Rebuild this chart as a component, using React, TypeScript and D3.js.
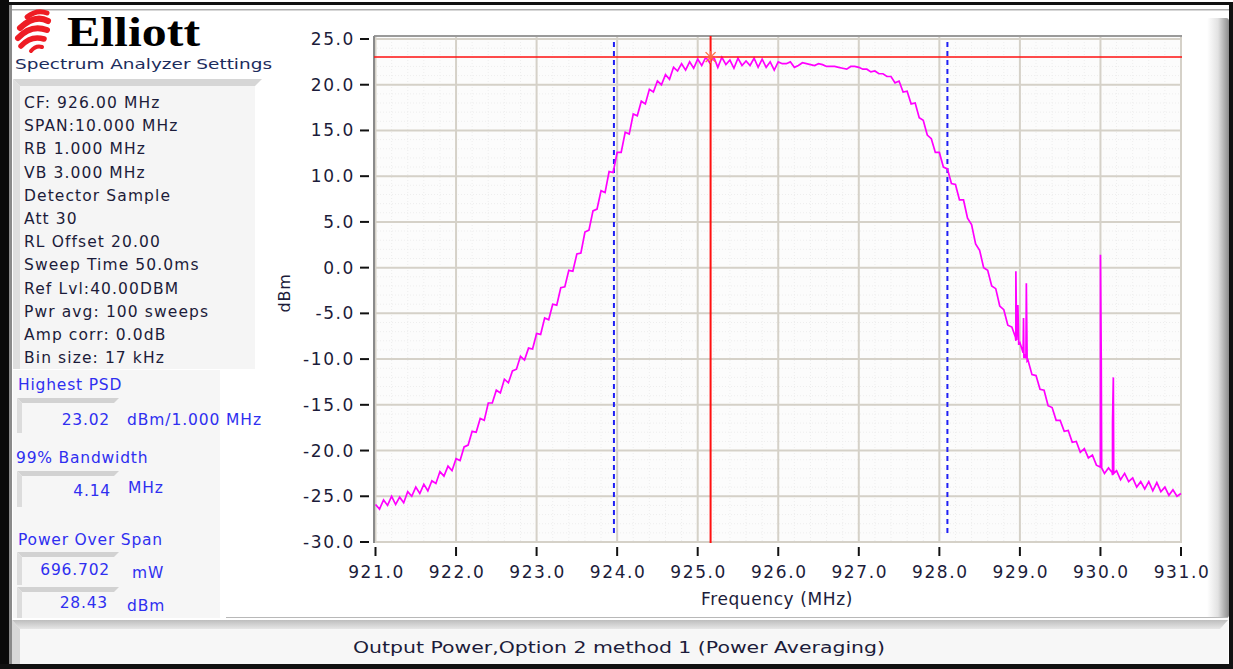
import React from "react";
import * as d3 from "d3";

// ---------- data ----------
const freqStart = 921.0;
const freqStep = 0.05;
const levels: number[] = [
  -26.2, -26.0, -25.9, -25.8, -25.6, -25.4, -25.3, -25.1, -24.9, -24.7,
  -24.5, -24.3, -24.0, -23.8, -23.5, -23.2, -22.9, -22.5, -22.1, -21.7,
  -21.2, -20.6, -20.0, -19.2, -18.4, -17.6, -16.8, -16.1, -15.2, -14.6,
  -13.9, -13.4, -12.6, -12.1, -11.6, -10.8, -10.2, -9.7, -9.0, -8.4,
  -7.6, -7.0, -6.0, -5.3, -4.3, -3.6, -2.6, -1.9, -0.8, 0.0,
  1.2, 2.1, 3.5, 4.4, 5.7, 6.6, 8.0, 8.7, 10.2, 10.8,
  12.2, 12.9, 14.5, 15.0, 16.6, 16.9, 18.0, 18.3, 19.2, 19.4,
  20.2, 20.3, 21.0, 20.9, 21.7, 21.6, 22.1, 21.9, 22.4, 22.0,
  22.7, 22.3, 22.8, 22.5, 22.9, 22.2, 22.8, 22.3, 22.6, 22.0,
  22.7, 22.3, 22.5, 22.4, 22.8, 22.1, 22.6, 22.3, 22.4, 21.8,
  22.4, 22.5, 22.1, 22.6, 21.8, 22.4, 22.2, 22.5, 22.1, 22.3,
  22.1, 22.3, 21.9, 22.2, 21.8, 22.1, 21.7, 22.0, 21.8, 22.1,
  21.8, 21.9, 21.5, 21.6, 21.4, 21.4, 21.0, 21.0, 20.6, 20.4,
  20.1, 19.6, 19.1, 18.4, 17.6, 16.7, 15.6, 14.9, 13.8, 13.1,
  12.2, 11.3, 10.3, 9.6, 8.8, 7.9, 7.0, 5.7, 4.2, 3.0,
  1.6, 0.5, -0.7, -1.7, -2.8, -3.8, -4.9, -5.8, -6.9, -7.7,
  -8.7, -9.5, -10.4, -11.2, -12.2, -13.0, -13.9, -14.7, -15.6, -16.2,
  -17.1, -17.6, -18.3, -18.7, -19.3, -19.7, -20.2, -20.5, -21.0, -21.2,
  -21.8, -21.9, -22.3, -22.4, -22.7, -22.8, -23.1, -23.1, -23.4, -23.5,
  -23.7, -23.6, -23.9, -24.0, -24.1, -24.2, -24.4, -24.3, -24.8, -24.6,
  -25.0,
];
// narrow spurious spikes (frequency MHz, level dBm)
const spikeFreqs: number[] = [
  928.945, 928.95, 928.96, 928.975, 928.985, 929.04, 929.045, 929.055, 929.075, 929.08, 929.09,
  929.995, 930.0, 930.01, 930.015, 930.145, 930.15, 930.16, 930.165,
];
const spikeLevels: number[] = [
  -7.6, -0.4, -7.9, -4.1, -8.3, -9.3, -5.5, -9.5, -9.9, -1.7, -10.2,
  -21.8, 1.4, -10.1, -21.9, -22.4, -16.9, -12.0, -22.5,
];
// per-bin ripple (dB), added to the levels at 0.05 MHz bins
const ripple: number[] = [
  0.3, -0.4, 0.5, -0.2, 0.6, -0.5, 0.2, -0.6, 0.4, -0.3,
  0.5, -0.4, 0.3, -0.6, 0.2, -0.4, 0.6, -0.3, 0.4, -0.5,
  0.3, -0.5, 0.4, -0.2, 0.5, -0.4, 0.3, -0.6, 0.4, -0.2,
  0.5, -0.3, 0.4, -0.5, 0.3, -0.3, 0.5, -0.4, 0.2, -0.5,
  0.4, -0.3, 0.5, -0.4, 0.3, -0.5, 0.4, -0.2, 0.5, -0.4,
  0.3, -0.5, 0.4, -0.3, 0.5, -0.2, 0.4, -0.5, 0.3, -0.4,
  0.4, -0.3, 0.3, -0.4, 0.2, -0.3, 0.2, -0.4, 0.3, -0.2,
  0.2, -0.3, 0.1, -0.3, 0.2, -0.1, 0.2, -0.3, 0.1, -0.2,
  0.1, -0.2, 0.2, -0.1, 0.1, -0.3, 0.2, -0.1, 0.1, -0.2,
  0.2, -0.2, 0.1, -0.3, 0.1, -0.2, 0.2, -0.4, 0.1, -0.2,
  0.1, -0.2, 0.2, -0.1, 0.1, -0.3, 0.2, -0.2, 0.1, -0.2,
  0.2, -0.1, 0.1, -0.2, 0.2, -0.2, 0.1, -0.3, 0.2, -0.1,
  0.1, -0.2, 0.2, -0.2, 0.1, -0.2, 0.2, -0.1, 0.3, -0.2,
  0.3, -0.4, 0.2, -0.5, 0.4, -0.3, 0.5, -0.4, 0.3, -0.5,
  0.4, -0.3, 0.5, -0.4, 0.3, -0.5, 0.4, -0.3, 0.5, -0.4,
  0.3, -0.5, 0.4, -0.3, 0.5, -0.4, 0.3, -0.5, 0.4, -0.3,
  0.5, -0.4, 0.3, -0.5, 0.4, -0.3, 0.5, -0.4, 0.3, -0.5,
  0.4, -0.3, 0.5, -0.4, 0.3, -0.5, 0.4, -0.3, 0.5, -0.4,
  0.3, -0.6, 0.4, -0.3, 0.5, -0.4, 0.6, -0.3, 0.4, -0.5,
  0.3, -0.6, 0.5, -0.4, 0.6, -0.3, 0.4, -0.6, 0.5, -0.4,
  0.3,
];

const xTicks: number[] = [921, 922, 923, 924, 925, 926, 927, 928, 929, 930, 931];
const yTicks: number[] = [25, 20, 15, 10, 5, 0, -5, -10, -15, -20, -25, -30];

const peakFreq = 925.16;
const peakLevel = 23.02;
const obwLow = 923.96;
const obwHigh = 928.1;

const settingsLines: string[] = [
  "CF: 926.00 MHz",
  "SPAN:10.000 MHz",
  "RB 1.000 MHz",
  "VB 3.000 MHz",
  "Detector Sample",
  "Att 30",
  "RL Offset 20.00",
  "Sweep Time 50.0ms",
  "Ref Lvl:40.00DBM",
  "Pwr avg: 100 sweeps",
  "Amp corr: 0.0dB",
  "Bin size: 17 kHz",
];

// ---------- layout ----------
const W = 1233;
const H = 669;
const FONT = "'DejaVu Sans', Verdana, sans-serif";
const TXT = "#1c1c3a";
const BLUE = "#2f2ff0";

const x = d3.scaleLinear().domain([921, 931]).range([375.5, 1181]);
const y = d3.scaleLinear().domain([25, -30]).range([39, 542]);

function Bevel({ x0, y0, w, h }: { x0: number; y0: number; w: number; h: number }) {
  return (
    <g>
      <rect x={x0} y={y0} width={w} height={h} fill="#f6f6f6" />
      <polygon points={`${x0},${y0} ${x0 + w},${y0} ${x0 + w - 5},${y0 + 5} ${x0 + 5},${y0 + 5}`} fill="#d2d2d2" />
      <polygon points={`${x0},${y0} ${x0 + 5},${y0 + 5} ${x0 + 5},${y0 + h} ${x0},${y0 + h}`} fill="#dcdcdc" />
    </g>
  );
}

export default function App() {
  const base = levels.map((v, i) => [freqStart + i * freqStep, v + ripple[i]] as [number, number]);
  const spikes = spikeFreqs.map((f, i) => [f, spikeLevels[i]] as [number, number]);
  const pts = base.concat(spikes).sort((a, b) => a[0] - b[0]);
  const line = d3
    .line<[number, number]>()
    .x((d) => x(d[0]))
    .y((d) => y(d[1]));

  const plotL = 374;
  const plotR = 1182;
  const plotT = 36;
  const plotB = 543;

  const minorX = d3.range(921, 931.001, 0.2);
  const minorY = d3.range(-30, 25.001, 1);

  const px = x(peakFreq);
  const py = y(peakLevel);

  return (
    <svg
      width={W}
      height={H}
      style={{ position: "absolute", left: 0, top: 0, background: "#fff" }}
      fontFamily={FONT}
    >
      {/* window frame */}
      <rect x={0} y={0} width={W} height={H} fill="#ffffff" />
      <rect x={0} y={2} width={W} height={3} fill="#111" />
      <rect x={0} y={0} width={9} height={H} fill="#0a0a0a" />
      <rect x={9} y={5} width={3} height={H - 5} fill="#8a8a8a" />
      <rect x={12} y={9} width={1218} height={1.5} fill="#b0b0b0" />
      <rect x={W - 4} y={5} width={4} height={H - 5} fill="#111" />
      <rect x={0} y={H - 5} width={W} height={5} fill="#111" />
      <defs>
        <linearGradient id="rbar" x1="0" x2="1" y1="0" y2="0">
          <stop offset="0" stopColor="#ffffff" />
          <stop offset="0.5" stopColor="#e2e2e2" />
          <stop offset="1" stopColor="#8c8c8c" />
        </linearGradient>
        <linearGradient id="sbar" x1="0" x2="0" y1="0" y2="1">
          <stop offset="0" stopColor="#bdbdbd" />
          <stop offset="1" stopColor="#e6e6e6" />
        </linearGradient>
      </defs>
      <rect x={1207} y={18} width={22} height={600} rx={3} fill="url(#rbar)" />

      {/* left panel */}
      <rect x={13} y={11} width={204} height={606} fill="#ffffff" />
      {/* logo swirl */}
      <g stroke="#ee1c24" fill="none" strokeLinecap="round">
        <path d="M 27 17 Q 37 9 47 13" strokeWidth={5} />
        <path d="M 20 28 Q 35 14 48 21" strokeWidth={6} />
        <path d="M 18 38 Q 31 24 47 30" strokeWidth={6} />
        <path d="M 21 46 Q 31 35 44 39" strokeWidth={5.5} />
        <path d="M 31 51 Q 36 45 42 47" strokeWidth={4} />
      </g>
      <text
        x={67}
        y={46}
        fontFamily="'Liberation Serif', 'Times New Roman', serif"
        fontWeight="bold"
        fontSize={43}
        fill="#000"
        textLength={133}
        lengthAdjust="spacingAndGlyphs"
      >
        Elliott
      </text>
      <text x={15} y={69} fontSize={14.5} fill="#1c2c5c" textLength={257} lengthAdjust="spacingAndGlyphs">
        Spectrum Analyzer Settings
      </text>

      {/* settings box */}
      <rect x={13} y={79} width={242} height={290} fill="#f5f5f5" />
      <polygon points="13,79 262,79 255,86 20,86" fill="#d6d6d6" />
      <polygon points="13,79 20,86 20,369 13,369" fill="#dedede" />
      {settingsLines.map((s, i) => (
        <text key={s} x={24} y={108 + i * 23.2} fontSize={15.5} fill={TXT} letterSpacing={1.1}>
          {s}
        </text>
      ))}

      {/* results panel */}
      <rect x={13} y={370} width={207} height={248} fill="#f6f6f6" />
      <text x={18} y={390} fontSize={15.5} fill={BLUE} letterSpacing={0.8}>
        Highest PSD
      </text>
      <Bevel x0={17} y0={398} w={102} h={35} />
      <text x={110} y={425} fontSize={15.5} fill={BLUE} textAnchor="end" letterSpacing={0.8}>
        23.02
      </text>
      <text x={127} y={425} fontSize={15.5} fill={BLUE} letterSpacing={0.9}>
        dBm/1.000 MHz
      </text>

      <text x={16} y={463} fontSize={15.5} fill={BLUE} letterSpacing={0.8}>
        99% Bandwidth
      </text>
      <Bevel x0={17} y0={471} w={102} h={36} />
      <text x={111} y={496} fontSize={15.5} fill={BLUE} textAnchor="end" letterSpacing={0.8}>
        4.14
      </text>
      <text x={128} y={493} fontSize={15.5} fill={BLUE} letterSpacing={0.9}>
        MHz
      </text>

      <text x={18} y={545} fontSize={15.5} fill={BLUE} letterSpacing={0.8}>
        Power Over Span
      </text>
      <Bevel x0={17} y0={552} w={102} h={33} />
      <text x={110} y={575} fontSize={15.5} fill={BLUE} textAnchor="end" letterSpacing={0.8}>
        696.702
      </text>
      <text x={132} y={578} fontSize={15.5} fill={BLUE} letterSpacing={0.9}>
        mW
      </text>
      <Bevel x0={17} y0={587} w={102} h={31} />
      <text x={108} y={608} fontSize={15.5} fill={BLUE} textAnchor="end" letterSpacing={0.8}>
        28.43
      </text>
      <text x={127} y={611} fontSize={15.5} fill={BLUE} letterSpacing={0.9}>
        dBm
      </text>

      {/* status bar */}
      <line x1={226} x2={1228} y1={617.5} y2={617.5} stroke="#b8b8b8" strokeWidth={1} />
      <rect x={12} y={620} width={1216} height={44} fill="#f7f7f7" />
      <polygon points="12,620 1228,620 1220,629 20,629" fill="url(#sbar)" />
      <polygon points="12,620 20,629 20,664 12,664" fill="#d8d8d8" />
      <text x={619} y={653} fontSize={16} fill={TXT} textAnchor="middle" textLength={532} lengthAdjust="spacingAndGlyphs">
        Output Power,Option 2 method 1 (Power Averaging)
      </text>

      {/* plot area */}
      <rect x={plotL} y={plotT} width={plotR - plotL} height={plotB - plotT} fill="#fcfcfc" />
      {minorX.map((v) => (
        <line key={"mx" + v} x1={x(v)} x2={x(v)} y1={plotT} y2={plotB} stroke="#eeeeee" strokeWidth={1} strokeDasharray="1,2" />
      ))}
      {minorY.map((v) => (
        <line key={"my" + v} x1={plotL} x2={plotR} y1={y(v)} y2={y(v)} stroke="#eeeeee" strokeWidth={1} strokeDasharray="1,2" />
      ))}
      {xTicks.map((v) => (
        <line key={"gx" + v} x1={x(v)} x2={x(v)} y1={plotT} y2={plotB} stroke="#d5d1c8" strokeWidth={2} />
      ))}
      {yTicks.map((v) => (
        <line key={"gy" + v} x1={plotL} x2={plotR} y1={y(v)} y2={y(v)} stroke="#d5d1c8" strokeWidth={2} />
      ))}
      <line x1={plotL} x2={plotR} y1={plotT} y2={plotT} stroke="#9a9a9a" strokeWidth={2} />
      <line x1={plotL} x2={plotL} y1={plotT} y2={plotB} stroke="#8a8a8a" strokeWidth={2} />

      {/* occupied bandwidth markers */}
      {[obwLow, obwHigh].map((f) => (
        <line key={"obw" + f} x1={x(f)} x2={x(f)} y1={42} y2={536} stroke="#1f1ff5" strokeWidth={2} strokeDasharray="5,4" />
      ))}

      {/* trace */}
      <path d={line(pts) || ""} fill="none" stroke="#ff00ff" strokeWidth={1.7} strokeLinejoin="miter" />

      {/* peak marker lines */}
      <line x1={plotL} x2={plotR} y1={py} y2={py} stroke="#ff1010" strokeWidth={1.5} />
      <line x1={px} x2={px} y1={plotT} y2={plotB} stroke="#ff1010" strokeWidth={2} />
      <g stroke="#ff6a40" strokeWidth={1.3}>
        <line x1={px - 5} x2={px + 5} y1={py - 5} y2={py + 5} />
        <line x1={px - 5} x2={px + 5} y1={py + 5} y2={py - 5} />
        <line x1={px - 6} x2={px + 6} y1={py} y2={py} />
        <line x1={px} x2={px} y1={py - 6} y2={py + 6} />
      </g>

      {/* y axis */}
      {yTicks.map((v) => (
        <g key={"yt" + v}>
          <line x1={360} x2={369} y1={y(v)} y2={y(v)} stroke="#111" strokeWidth={2} />
          <text x={355} y={y(v) + 6} fontSize={17} fill={TXT} textAnchor="end" letterSpacing={1.6}>
            {v.toFixed(1)}
          </text>
        </g>
      ))}
      {/* x axis */}
      {xTicks.map((v) => (
        <g key={"xt" + v}>
          <line x1={x(v)} x2={x(v)} y1={547} y2={556} stroke="#111" strokeWidth={2} />
          <text x={x(v) + 1} y={578} fontSize={17} fill={TXT} textAnchor="middle" letterSpacing={1.6}>
            {v.toFixed(1)}
          </text>
        </g>
      ))}
      <text x={777} y={605} fontSize={17} fill={TXT} textAnchor="middle" letterSpacing={0.6}>
        Frequency (MHz)
      </text>
      <text
        transform="translate(290,293) rotate(-90)"
        fontSize={16}
        fill={TXT}
        textAnchor="middle"
        letterSpacing={0.8}
      >
        dBm
      </text>
    </svg>
  );
}
